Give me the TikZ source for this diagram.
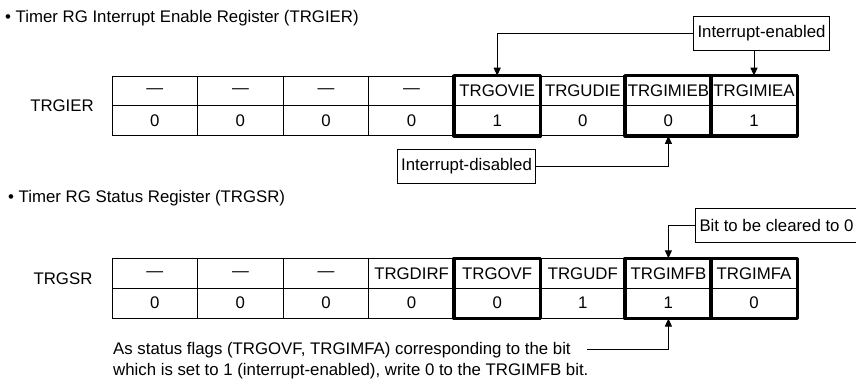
\documentclass[tikz,border=0pt]{standalone}
\usepackage{fontspec}
\setmainfont{Liberation Sans}
\usetikzlibrary{arrows.meta,positioning}

\tikzset{
  regcell/.style={draw,line width=1pt,minimum width=85.6pt,minimum height=29.6pt,
                  inner sep=0pt,anchor=north west},
  hilite/.style={line width=3.3pt,line join=round},
  callout/.style={draw,line width=1pt,inner xsep=4pt,inner ysep=0pt,minimum height=34pt},
  pointer/.style={-{Triangle[length=8pt,width=7pt]},line width=1pt},
  plain/.style={inner sep=0pt}
}

\begin{document}
\begin{tikzpicture}[x=1pt,y=-1pt,font=\fontsize{16.8}{20.5}\selectfont]
  \useasboundingbox (0,0) rectangle (856,383);

  % TRGIER
  \node[plain,anchor=west] (ttlier) at (5,18) {• Timer RG Interrupt Enable Register (TRGIER)};
  \node[plain] (lblier) at (62,106) {TRGIER};
  \foreach \nm/\val [count=\i from 0] in {—/0,—/0,—/0,—/0,TRGOVIE/1,TRGUDIE/0,TRGIMIEB/0,TRGIMIEA/1}{
    \node[regcell] (ier\i) at (111.5+85.6*\i,75.7) {\nm};
    \node[regcell] (ierv\i) at (111.5+85.6*\i,105.3) {\val};
  }
  \foreach \i in {4,6,7}
    \draw[hilite] (ier\i.north west) rectangle (ierv\i.south east);

  \node[callout] (enab) at (761.5,33.5) {Interrupt-enabled};
  \draw[pointer] (enab.west) -| (ier4.north);
  \draw[pointer] (enab.south -| ier7.north) -- (ier7.north);

  \node[callout] (disab) at (466.5,166.5) {Interrupt-disabled};
  \draw[pointer] (disab.east) -| (ierv6.south);

  % TRGSR
  \node[plain,anchor=west] (ttlsr) at (8,198) {• Timer RG Status Register (TRGSR)};
  \node[plain] (lblsr) at (63,279) {TRGSR};
  \foreach \nm/\val [count=\i from 0] in {—/0,—/0,—/0,TRGDIRF/0,TRGOVF/0,TRGUDF/1,TRGIMFB/1,TRGIMFA/0}{
    \node[regcell] (sr\i) at (111.5+85.6*\i,258.3) {\nm};
    \node[regcell] (srv\i) at (111.5+85.6*\i,287.9) {\val};
  }
  \foreach \i in {4,6,7}
    \draw[hilite] (sr\i.north west) rectangle (srv\i.south east);

  \node[callout,anchor=west] (clr) at (695,225) {Bit to be cleared to 0};
  \draw[pointer] (clr.west) -| (sr6.north);

  \node[plain,anchor=west,align=left] (note) at (113,360.5)
    {As status flags (TRGOVF, TRGIMFA) corresponding to the bit\\
     which is set to 1 (interrupt-enabled), write 0 to the TRGIMFB bit.};
  \coordinate (notetail) at (587,349);
  \draw[pointer] (notetail) -| (srv6.south);
\end{tikzpicture}
\end{document}
